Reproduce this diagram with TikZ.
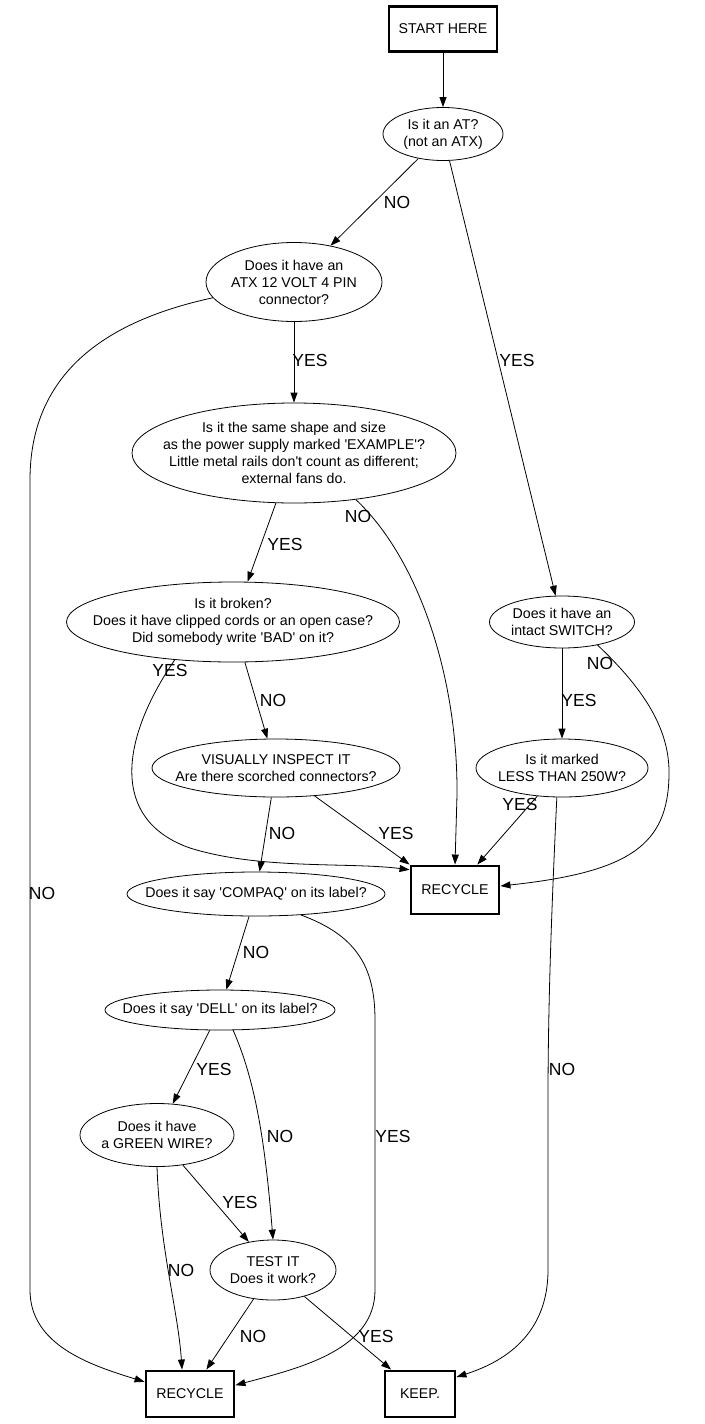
\documentclass[tikz,border=0pt]{standalone}
\usepackage{fontspec}
\setmainfont{Liberation Sans}
\usetikzlibrary{shapes.geometric,arrows.meta}
\newcommand{\sq}{\textquotesingle}
\begin{document}
\begin{tikzpicture}[x=1pt,y=-1pt,
  every node/.style={font=\fontsize{14.2}{17}\selectfont, align=center, inner sep=0pt},
  q/.style={draw, ellipse, line width=0.8pt, inner xsep=-200pt, inner ysep=-80pt},
  term/.style={draw, rectangle, line width=2.9pt},
  lbl/.style={font=\fontsize{17.5}{20}\selectfont},
  conn/.style={draw, line width=0.8pt, -{Triangle[length=10pt,width=7pt]}}]
\useasboundingbox (0,0) rectangle (704,1424);

% nodes
\node[term, minimum width=108, minimum height=45] (start) at (443,29) {START HERE};
\node[q, minimum width=120, minimum height=53] (at) at (443,134) {Is it an AT?\\(not an ATX)};
\node[q, minimum width=176, minimum height=79] (atx) at (294,282) {Does it have an\\ATX 12 VOLT 4 PIN\\connector?};
\node[q, minimum width=324, minimum height=100] (ex) at (294,453) {Is it the same shape and size\\as the power supply marked \sq EXAMPLE\sq ?\\Little metal rails don\sq t count as different;\\external fans do.};
\node[q, minimum width=333, minimum height=80] (br) at (233,622) {Is it broken?\\Does it have clipped cords or an open case?\\Did somebody write \sq BAD\sq{} on it?};
\node[q, minimum width=145, minimum height=52] (sw) at (562,622) {Does it have an\\intact SWITCH?};
\node[q, minimum width=172, minimum height=58] (less) at (562,768) {Is it marked\\LESS THAN 250W?};
\node[q, minimum width=248, minimum height=58] (insp) at (276,768) {VISUALLY INSPECT IT\\Are there scorched connectors?};
\node[term, minimum width=88, minimum height=48] (rec1) at (455,890) {RECYCLE};
\node[q, minimum width=258, minimum height=44] (cpq) at (256,894) {Does it say \sq COMPAQ\sq{} on its label?};
\node[q, minimum width=230, minimum height=40] (dell) at (220,1010) {Does it say \sq DELL\sq{} on its label?};
\node[q, minimum width=154, minimum height=63] (gw) at (157,1135) {Does it have\\a GREEN WIRE?};
\node[q, minimum width=126, minimum height=60] (test) at (273,1270) {TEST IT\\Does it work?};
\node[term, minimum width=88, minimum height=46] (rec2) at (190,1394) {RECYCLE};
\node[term, minimum width=70, minimum height=46] (keep) at (420,1394) {KEEP.};

% straight connectors
\draw[conn] (start) -- (at);
\draw[conn] (at) -- (atx);
\draw[conn] (at) -- (sw);
\draw[conn] (atx) -- (ex);
\draw[conn] (ex) -- (br);
\draw[conn] (br) -- (insp);
\draw[conn] (sw) -- (less);
\draw[conn] (less) -- (rec1);
\draw[conn] (insp) -- (rec1.north west);
\draw[conn] (insp) -- (cpq);
\draw[conn] (cpq) -- (dell);
\draw[conn] (dell) -- (gw);
\draw[conn] (gw) -- (test);
\draw[conn] (test) -- (rec2);
\draw[conn] (test) -- (keep);

% curved connectors
\draw[conn] (atx.191) .. controls (110,320) and (30,370) .. (30,480) -- (30,1290) .. controls (30,1345) and (90,1365) .. (rec2.165);
\draw[conn] (ex.-37) .. controls (420,560) and (458,680) .. (457,795) -- (rec1.north);
\draw[conn] (br.213) .. controls (120,740) and (110,820) .. (190,848) .. controls (260,870) and (350,862) .. (rec1.156);
\draw[conn] (sw.-33) .. controls (645,690) and (670,730) .. (669,775) .. controls (668,845) and (630,872) .. (rec1.5);
\draw[conn] (less.-100) .. controls (552,900) and (548,1000) .. (548,1100) -- (548,1270) .. controls (548,1330) and (510,1360) .. (keep.25);
\draw[conn] (cpq.-25) .. controls (355,935) and (375,965) .. (375,1020) -- (375,1290) .. controls (375,1350) and (300,1368) .. (rec2.11);
\draw[conn] (dell.-57) .. controls (255,1080) and (265,1140) .. (test.north);
\draw[conn] (gw.south) .. controls (160,1250) and (178,1310) .. (rec2.108);

% edge labels
\node[lbl] (l1) at (397,202) {NO};
\node[lbl] (l2) at (517,360) {YES};
\node[lbl] (l3) at (310,360) {YES};
\node[lbl] (l4) at (42,893) {NO};
\node[lbl] (l5) at (285,544) {YES};
\node[lbl] (l6) at (358,516) {NO};
\node[lbl] (l7) at (170,670) {YES};
\node[lbl] (l8) at (273,700) {NO};
\node[lbl] (l9) at (579,700) {YES};
\node[lbl] (l10) at (600,663) {NO};
\node[lbl] (l11) at (520,804) {YES};
\node[lbl] (l12) at (562,1069) {NO};
\node[lbl] (l13) at (282,833) {NO};
\node[lbl] (l14) at (396,833) {YES};
\node[lbl] (l15) at (256,952) {NO};
\node[lbl] (l16) at (393,1136) {YES};
\node[lbl] (l17) at (214,1069) {YES};
\node[lbl] (l18) at (280,1136) {NO};
\node[lbl] (l19) at (181,1270) {NO};
\node[lbl] (l20) at (240,1202) {YES};
\node[lbl] (l21) at (253,1336) {NO};
\node[lbl] (l22) at (376,1336) {YES};
\end{tikzpicture}
\end{document}
